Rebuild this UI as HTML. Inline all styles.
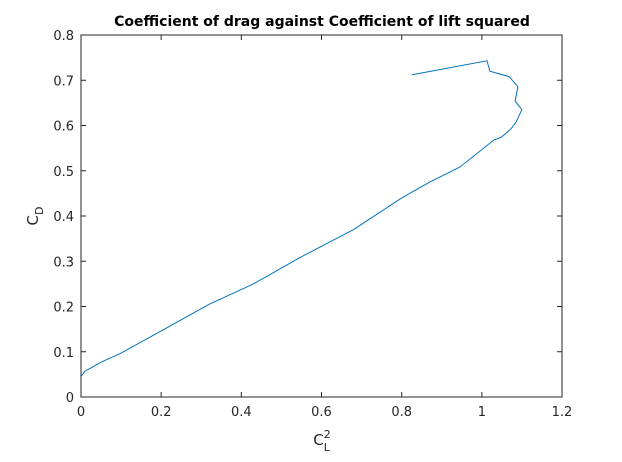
<!DOCTYPE html>
<html><head><meta charset="utf-8"><style>
body{margin:0;background:#fff;}
svg{display:block;font-family:"DejaVu Sans","Liberation Sans",sans-serif;}
</style></head><body>
<svg id="chart" width="622" height="462">
<rect x="0" y="0" width="622" height="462" fill="#fff"/>
<text x="322" y="26" text-anchor="middle" font-size="14" font-weight="bold" fill="#000">Coefficient of drag against Coefficient of lift squared</text>
<g id="axes"></g>
<text x="322" y="445" text-anchor="middle" font-size="15" fill="#262626">C<tspan font-size="11" dy="-7">2</tspan><tspan font-size="11" dx="-7" dy="13">L</tspan></text>
<text transform="translate(38,216) rotate(-90)" text-anchor="middle" font-size="15" fill="#262626">C<tspan font-size="11" dy="5">D</tspan></text>
</svg>
<script>
const xTicks=[0,0.2,0.4,0.6,0.8,1,1.2];
const yTicks=[0,0.1,0.2,0.3,0.4,0.5,0.6,0.7,0.8];
const cl2=[0,0.01,0.05,0.1,0.2,0.32,0.43,0.55,0.68,0.8,0.87,0.945,1.03,1.05,1.073,1.085,1.1,1.083,1.09,1.068,1.02,1.013,0.826];
const cd=[0.045,0.057,0.077,0.097,0.146,0.205,0.25,0.31,0.37,0.44,0.475,0.508,0.568,0.575,0.593,0.607,0.635,0.654,0.686,0.708,0.72,0.743,0.712];
const L=81,R=562,T=35,B=397;
const sx=v=>L+(v-0)/1.2*(R-L);
const sy=v=>B-(v-0)/0.8*(B-T);
const NS='http://www.w3.org/2000/svg';
const g=document.getElementById('axes');
function mk(t,a){const e=document.createElementNS(NS,t);for(const k in a)e.setAttribute(k,a[k]);g.appendChild(e);return e;}
xTicks.forEach(v=>{const x=sx(v);
mk('line',{x1:x,y1:B,x2:x,y2:B-5,stroke:'#262626'});
mk('line',{x1:x,y1:T,x2:x,y2:T+5,stroke:'#262626'});
const t=mk('text',{x:x,y:B+19,'text-anchor':'middle','font-size':13,fill:'#262626'});t.textContent=String(v);


});
yTicks.forEach(v=>{const y=sy(v);
mk('line',{x1:L,y1:y,x2:L+5,y2:y,stroke:'#262626'});
mk('line',{x1:R,y1:y,x2:R-5,y2:y,stroke:'#262626'});
const t=mk('text',{x:L-7,y:y+5,'text-anchor':'end','font-size':13,fill:'#262626'});t.textContent=String(v);


});
const box=mk('rect',{x:L,y:T,width:R-L,height:B-T,fill:'none',stroke:'#262626'});


const pts=cl2.map((v,i)=>sx(v).toFixed(1)+','+sy(cd[i]).toFixed(1)).join(' ');
const line=mk('polyline',{points:pts,fill:'none',stroke:'#0072BD','stroke-width':1});


</script>
</body></html>
